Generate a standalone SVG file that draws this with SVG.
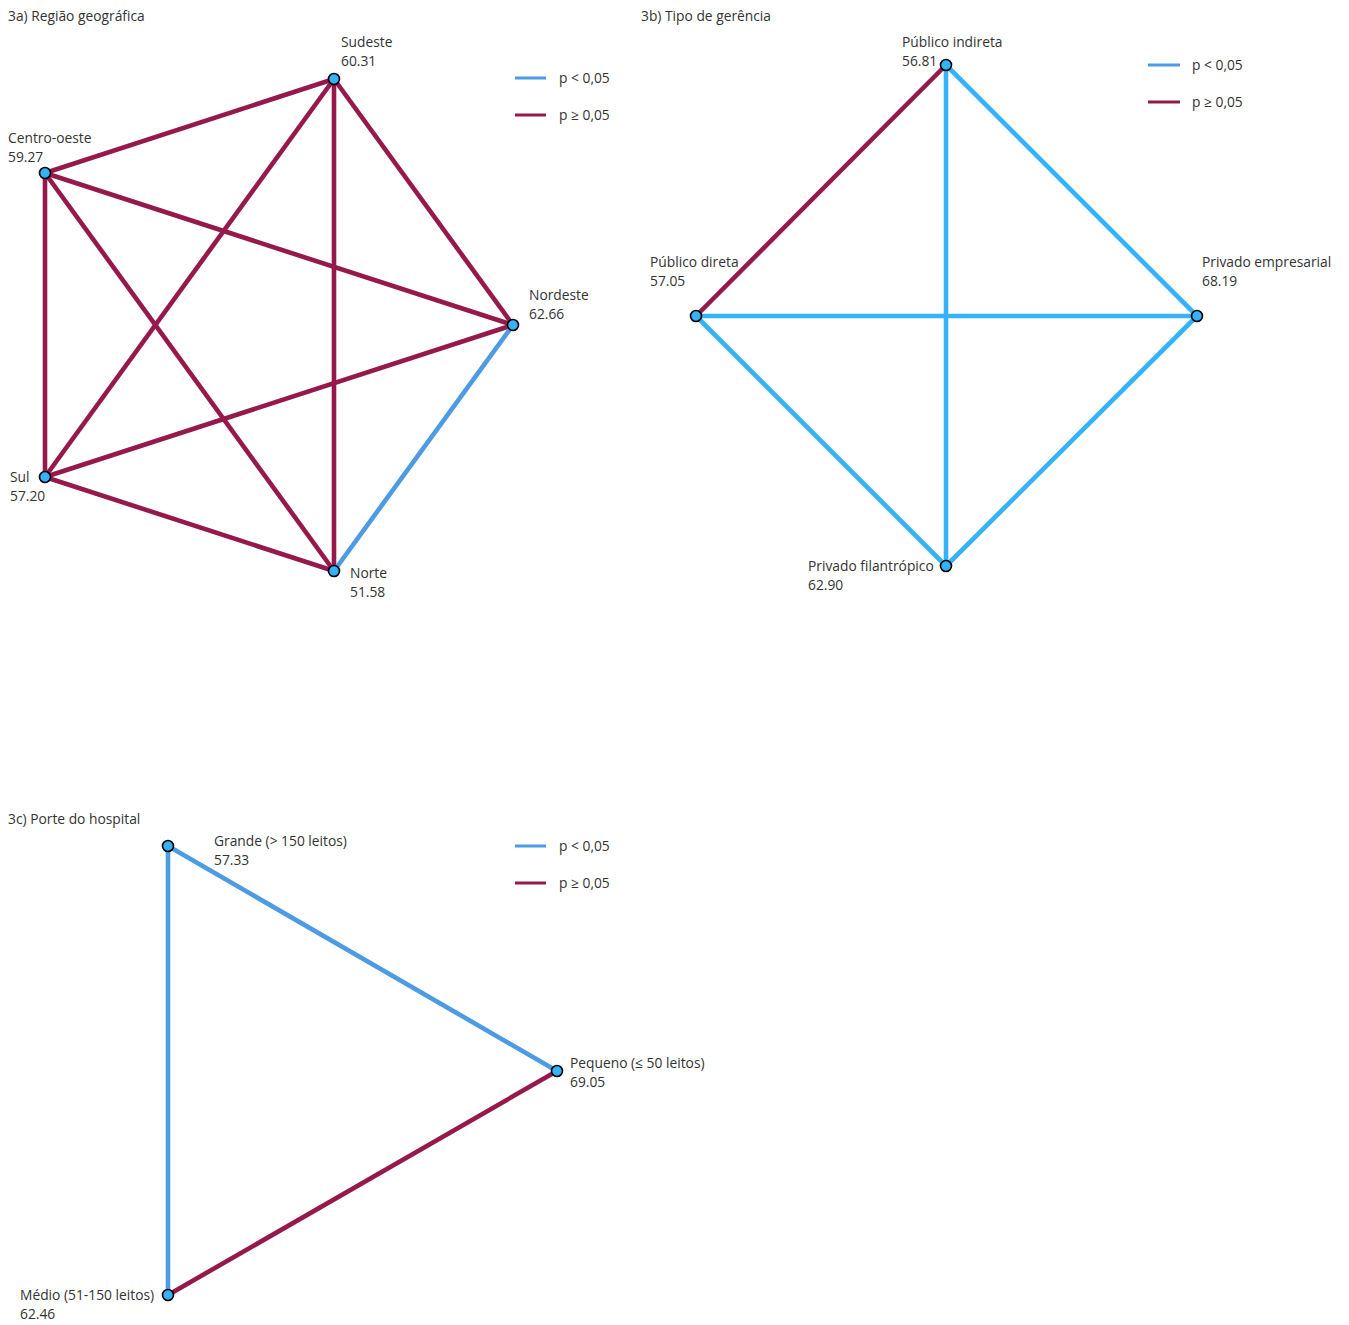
<svg xmlns="http://www.w3.org/2000/svg" width="1349" height="1325" viewBox="0 0 1349 1325">
<style>
text{font-family:"Open Sans","Noto Sans",sans-serif;font-size:13.8px;fill:#333}
.r{stroke:#951a4b;stroke-width:4.6;fill:none}
.b{stroke:#4d9be3;stroke-width:4.6;fill:none}
.c{stroke:#36b2f9;stroke-width:4.6;fill:none}
.lr{stroke:#951a4b;stroke-width:3}
.lb{stroke:#4d9be3;stroke-width:3}
.n{fill:#36b2f9;stroke:#000;stroke-width:1.6}
</style>
<rect width="1349" height="1325" fill="#fff"/>
<text x="8" y="21">3a) Região geográfica</text>
<text x="641" y="21">3b) Tipo de gerência</text>
<text x="8" y="824">3c) Porte do hospital</text>
<g id="connectors">
<line class="r" x1="334" y1="79" x2="45" y2="173"/>
<line class="r" x1="334" y1="79" x2="45" y2="477"/>
<line class="r" x1="334" y1="79" x2="334" y2="571"/>
<line class="r" x1="334" y1="79" x2="513" y2="325"/>
<line class="r" x1="45" y1="173" x2="45" y2="477"/>
<line class="r" x1="45" y1="173" x2="334" y2="571"/>
<line class="r" x1="45" y1="173" x2="513" y2="325"/>
<line class="r" x1="45" y1="477" x2="513" y2="325"/>
<line class="r" x1="45" y1="477" x2="334" y2="571"/>
<line class="b" x1="513" y1="325" x2="334" y2="571"/>
<line class="c" x1="946" y1="65" x2="946" y2="566"/>
<line class="c" x1="946" y1="65" x2="1197" y2="316"/>
<line class="c" x1="696" y1="316" x2="1197" y2="316"/>
<line class="c" x1="696" y1="316" x2="946" y2="566"/>
<line class="c" x1="1197" y1="316" x2="946" y2="566"/>
<line class="r" x1="946" y1="65" x2="696" y2="316"/>
<line class="b" x1="168" y1="846" x2="168" y2="1295"/>
<line class="b" x1="168" y1="846" x2="557" y2="1071"/>
<line class="r" x1="168" y1="1295" x2="557" y2="1071"/>
</g>
<g id="legend-a">
<line class="lb" x1="515" y1="78" x2="546" y2="78"/><text x="559" y="83">p &lt; 0,05</text>
<line class="lr" x1="515" y1="115" x2="546" y2="115"/><text x="559" y="120">p ≥ 0,05</text>
</g>
<g id="legend-b">
<line class="lb" x1="1148" y1="65" x2="1180" y2="65"/><text x="1192" y="70">p &lt; 0,05</text>
<line class="lr" x1="1148" y1="102" x2="1180" y2="102"/><text x="1192" y="107">p ≥ 0,05</text>
</g>
<g id="legend-c">
<line class="lb" x1="515" y1="846" x2="546" y2="846"/><text x="559" y="851">p &lt; 0,05</text>
<line class="lr" x1="515" y1="883" x2="546" y2="883"/><text x="559" y="888">p ≥ 0,05</text>
</g>
<g id="sudeste"><circle class="n" cx="334" cy="79" r="5.5"/><text x="341" y="47">Sudeste</text><text x="341" y="66">60.31</text></g>
<g id="centro-oeste"><circle class="n" cx="45" cy="173" r="5.5"/><text x="8" y="143">Centro-oeste</text><text x="8" y="162">59.27</text></g>
<g id="nordeste"><circle class="n" cx="513" cy="325" r="5.5"/><text x="529" y="300">Nordeste</text><text x="529" y="319">62.66</text></g>
<g id="sul"><circle class="n" cx="45" cy="477" r="5.5"/><text x="10" y="482">Sul</text><text x="10" y="501">57.20</text></g>
<g id="norte"><circle class="n" cx="334" cy="571" r="5.5"/><text x="350" y="578">Norte</text><text x="350" y="597">51.58</text></g>
<g id="publico-indireta"><circle class="n" cx="946" cy="65" r="5.5"/><text x="902" y="47">Público indireta</text><text x="902" y="66">56.81</text></g>
<g id="publico-direta"><circle class="n" cx="696" cy="316" r="5.5"/><text x="650" y="267">Público direta</text><text x="650" y="286">57.05</text></g>
<g id="privado-empresarial"><circle class="n" cx="1197" cy="316" r="5.5"/><text x="1202" y="267">Privado empresarial</text><text x="1202" y="286">68.19</text></g>
<g id="privado-filantropico"><circle class="n" cx="946" cy="566" r="5.5"/><text x="808" y="571">Privado filantrópico</text><text x="808" y="590">62.90</text></g>
<g id="grande"><circle class="n" cx="168" cy="846" r="5.5"/><text x="214" y="846">Grande (&gt; 150 leitos)</text><text x="214" y="865">57.33</text></g>
<g id="pequeno"><circle class="n" cx="557" cy="1071" r="5.5"/><text x="570" y="1068">Pequeno (≤ 50 leitos)</text><text x="570" y="1087">69.05</text></g>
<g id="medio"><circle class="n" cx="168" cy="1295" r="5.5"/><text x="20" y="1300">Médio (51-150 leitos)</text><text x="20" y="1319">62.46</text></g>
</svg>
